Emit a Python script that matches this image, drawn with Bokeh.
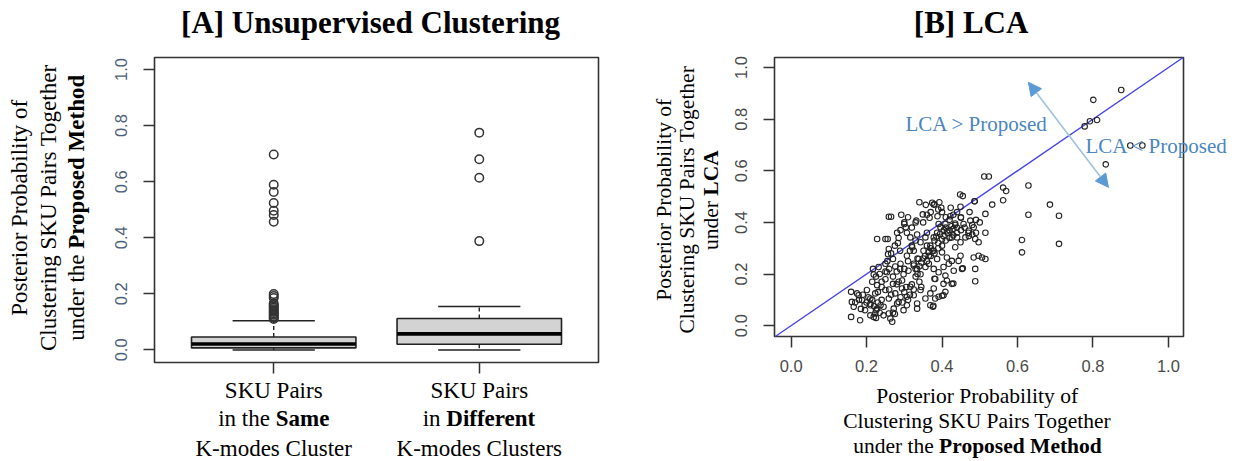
import math
from bokeh.plotting import figure
from bokeh.layouts import row
from bokeh.models import (Range1d, FixedTicker, PrintfTickFormatter, Label,
                          Arrow, NormalHead)
from bokeh.embed import file_html
from bokeh.resources import INLINE

SERIF = "Liberation Serif"
SANS = "Liberation Sans"

# ---------------- [A] box plots: proposed-method probabilities by K-modes grouping
group_pos = [1, 2]
group_line1 = ["SKU Pairs", "SKU Pairs"]
group_line2_plain = ["in the ", "in "]
group_line2_bold = ["Same", "Different"]
group_line3 = ["K-modes Cluster", "K-modes Clusters"]
box_q1 = [0.007, 0.020]
box_median = [0.021, 0.057]
box_q3 = [0.046, 0.112]
whisker_low = [0.0, 0.0]
whisker_high = [0.104, 0.155]
outliers_same = [0.697, 0.589, 0.563, 0.524, 0.496, 0.481, 0.457,
                 0.199, 0.192, 0.185, 0.165, 0.160, 0.155, 0.150, 0.145,
                 0.140, 0.135, 0.130, 0.125, 0.120, 0.115, 0.110]
outliers_different = [0.775, 0.680, 0.614, 0.388]

prob_ticks = [0.0, 0.2, 0.4, 0.6, 0.8, 1.0]

# ---------------- [B] scatter: proposed method (x) vs LCA (y)
proposed_prob = [
    0.512, 0.524, 0.562, 0.570, 0.629, 0.533, 0.562, 0.448, 0.455, 0.487,
    0.515, 0.515, 0.686, 0.629, 0.710, 0.612, 0.612, 0.710, 0.875, 0.801,
    0.778, 0.792, 0.811, 0.834, 0.899, 0.931,
    0.340, 0.357, 0.374, 0.378, 0.393, 0.398, 0.423, 0.449, 0.473, 0.486,
    0.259, 0.265, 0.292, 0.300, 0.304, 0.332, 0.349, 0.367, 0.388, 0.391,
    0.409, 0.422, 0.435, 0.450, 0.457, 0.475, 0.484, 0.471,
    0.228, 0.250, 0.256, 0.259, 0.283, 0.281, 0.307, 0.316, 0.334, 0.321,
    0.343, 0.356, 0.360, 0.369, 0.378, 0.387, 0.396, 0.404, 0.413, 0.426,
    0.435, 0.440, 0.449, 0.462, 0.471, 0.480, 0.488, 0.497,
    0.257, 0.270, 0.289, 0.307, 0.325, 0.338, 0.351, 0.365, 0.378, 0.387,
    0.400, 0.413, 0.426, 0.444, 0.484, 0.497, 0.506, 0.515, 0.449,
    0.217, 0.219, 0.232, 0.250, 0.254, 0.276, 0.289, 0.298, 0.311, 0.325,
    0.334, 0.343, 0.356, 0.365, 0.378, 0.391, 0.404, 0.418, 0.431, 0.453,
    0.488, 0.488, 0.413, 0.426, 0.404, 0.382, 0.294,
    0.159, 0.161, 0.179, 0.188, 0.201, 0.210, 0.223, 0.228, 0.237, 0.250,
    0.259, 0.270, 0.276, 0.285, 0.294, 0.307, 0.316, 0.325, 0.334, 0.343,
    0.356, 0.369, 0.378, 0.382, 0.404, 0.409, 0.391,
    0.159, 0.166, 0.183, 0.196, 0.210, 0.219, 0.223, 0.228, 0.245, 0.259,
    0.263, 0.268, 0.272, 0.281, 0.298, 0.307, 0.334, 0.369, 0.376,
    0.455, 0.430, 0.400, 0.377, 0.409, 0.380,
    0.380, 0.385, 0.390, 0.395, 0.400, 0.405, 0.410, 0.415, 0.420, 0.425,
    0.430, 0.435, 0.440, 0.370, 0.375, 0.365, 0.360, 0.355, 0.350, 0.345,
    0.340, 0.335, 0.330, 0.325, 0.360, 0.370, 0.380, 0.390, 0.400, 0.410,
    0.420, 0.430, 0.440, 0.450, 0.460, 0.470, 0.480, 0.490, 0.500, 0.490,
    0.200, 0.205, 0.210, 0.215, 0.220, 0.225, 0.230, 0.235, 0.240, 0.245,
    0.190, 0.195, 0.180, 0.175, 0.170, 0.185, 0.210, 0.225, 0.230, 0.240,
    0.250, 0.260, 0.265, 0.270, 0.275, 0.280, 0.285, 0.290, 0.295, 0.300,
    0.305, 0.310, 0.315, 0.320, 0.325, 0.330, 0.335, 0.340, 0.345, 0.300,
    0.310, 0.315, 0.320, 0.330, 0.290, 0.280, 0.270, 0.260, 0.250, 0.235,
    0.225, 0.215, 0.240, 0.255, 0.265, 0.275, 0.285, 0.290, 0.300, 0.310,
    0.320, 0.330, 0.350, 0.360, 0.370, 0.380, 0.390, 0.400, 0.410, 0.420,
    0.430, 0.440, 0.450,
]
lca_prob = [
    0.578, 0.578, 0.535, 0.522, 0.543, 0.469, 0.486, 0.508, 0.502, 0.482,
    0.433, 0.360, 0.469, 0.430, 0.426, 0.332, 0.284, 0.317, 0.913, 0.875,
    0.772, 0.792, 0.797, 0.625, 0.698, 0.698,
    0.478, 0.468, 0.476, 0.469, 0.478, 0.457, 0.457, 0.461, 0.440, 0.482,
    0.422, 0.422, 0.430, 0.394, 0.381, 0.407, 0.431, 0.418, 0.424, 0.394,
    0.394, 0.424, 0.396, 0.418, 0.394, 0.407, 0.381, 0.368,
    0.336, 0.336, 0.336, 0.297, 0.320, 0.360, 0.360, 0.342, 0.353, 0.304,
    0.323, 0.342, 0.360, 0.310, 0.342, 0.360, 0.381, 0.347, 0.366, 0.342,
    0.304, 0.342, 0.323, 0.342, 0.347, 0.353, 0.336, 0.323,
    0.277, 0.258, 0.290, 0.271, 0.290, 0.258, 0.290, 0.271, 0.290, 0.258,
    0.284, 0.264, 0.251, 0.251, 0.264, 0.271, 0.264, 0.258, 0.271,
    0.220, 0.198, 0.227, 0.240, 0.207, 0.229, 0.220, 0.199, 0.213, 0.233,
    0.220, 0.199, 0.227, 0.240, 0.220, 0.207, 0.227, 0.240, 0.213, 0.220,
    0.220, 0.172, 0.175, 0.162, 0.162, 0.181, 0.175,
    0.131, 0.092, 0.118, 0.099, 0.138, 0.105, 0.125, 0.157, 0.079, 0.138,
    0.105, 0.162, 0.125, 0.092, 0.144, 0.112, 0.151, 0.118, 0.086, 0.138,
    0.105, 0.125, 0.144, 0.105, 0.118, 0.131, 0.112,
    0.034, 0.073, 0.021, 0.060, 0.079, 0.034, 0.047, 0.066, 0.073, 0.047,
    0.028, 0.015, 0.066, 0.086, 0.060, 0.079, 0.066, 0.079, 0.073,
    0.222, 0.163, 0.116, 0.077, 0.194, 0.182,
    0.330, 0.345, 0.320, 0.355, 0.335, 0.370, 0.380, 0.360, 0.370, 0.385,
    0.375, 0.390, 0.380, 0.300, 0.290, 0.285, 0.310, 0.270, 0.260, 0.245,
    0.230, 0.260, 0.220, 0.240, 0.250, 0.270, 0.280, 0.300, 0.310, 0.330,
    0.340, 0.350, 0.360, 0.370, 0.380, 0.360, 0.390, 0.410, 0.400, 0.360,
    0.090, 0.110, 0.085, 0.100, 0.075, 0.060, 0.090, 0.050, 0.100, 0.040,
    0.120, 0.080, 0.100, 0.125, 0.090, 0.065, 0.040, 0.030, 0.130, 0.170,
    0.180, 0.140, 0.120, 0.050, 0.045, 0.160, 0.170, 0.110, 0.090, 0.130,
    0.150, 0.100, 0.120, 0.160, 0.140, 0.190, 0.200, 0.170, 0.150, 0.220,
    0.250, 0.290, 0.310, 0.330, 0.240, 0.210, 0.190, 0.220, 0.210, 0.200,
    0.190, 0.170, 0.150, 0.250, 0.280, 0.310, 0.340, 0.370, 0.400, 0.420,
    0.380, 0.400, 0.400, 0.430, 0.440, 0.470, 0.450, 0.440, 0.420, 0.410,
    0.430, 0.440, 0.420,
]


def add_text(fig, x, y, text, size, bold=False, angle=0.0, align="center",
             color="black", x_offset=0, y_offset=0, font=SERIF):
    fig.add_layout(Label(
        x=x, y=y, text=text, angle=angle, x_offset=x_offset, y_offset=y_offset,
        text_font=font, text_font_size=f"{size}px",
        text_font_style="bold" if bold else "normal",
        text_align=align, text_baseline="middle", text_color=color))


def style_axis(ax, label_color, standoff):
    ax.axis_line_color = None
    ax.major_tick_line_color = "#333333"
    ax.major_tick_line_width = 1.5
    ax.major_tick_out = 11
    ax.major_tick_in = 0
    ax.minor_tick_line_color = None
    ax.major_label_text_font = SANS
    ax.major_label_text_font_size = "16.5px"
    ax.major_label_text_color = label_color
    ax.major_label_standoff = standoff


def panel_figure(canvas_w, canvas_h, box_x, box_y, box_px):
    """The plotting frame spans the whole canvas; the R-style plot box sits
    at box_px = (left, top, right, bottom) pixels and shows box_x / box_y."""
    l, t, r, b = box_px
    kx = (r - l) / (box_x[1] - box_x[0])
    ky = (b - t) / (box_y[1] - box_y[0])
    xr = Range1d(box_x[0] - l / kx, box_x[1] + (canvas_w - r) / kx)
    yr = Range1d(box_y[0] - (canvas_h - b) / ky, box_y[1] + t / ky)
    fig = figure(frame_width=canvas_w, frame_height=canvas_h, min_border=0,
                 x_range=xr, y_range=yr,
                 output_backend="svg", toolbar_location=None)
    fig.grid.visible = False
    fig.outline_line_color = None
    fig.background_fill_color = "white"
    fig.border_fill_color = "white"
    fig.xaxis.fixed_location = box_y[0]
    fig.yaxis.fixed_location = box_x[0]
    fig.quad(left=[box_x[0]], right=[box_x[1]], bottom=[box_y[0]], top=[box_y[1]],
             fill_color=None, line_color="#333333", line_width=1.6)
    return fig


# ======================= Panel A =======================
a_box_x, a_box_y = (0.42, 2.58), (-0.045, 1.043)
pa = panel_figure(620, 461, a_box_x, a_box_y, (154, 57, 598, 362))

pa.yaxis.ticker = FixedTicker(ticks=prob_ticks)
pa.yaxis.formatter = PrintfTickFormatter(format="%.1f")
pa.yaxis.major_label_orientation = "vertical"
style_axis(pa.yaxis[0], "#4d6079", 16)

pa.xaxis.ticker = FixedTicker(ticks=group_pos)
pa.xaxis.major_label_overrides = {g: "" for g in group_pos}
style_axis(pa.xaxis[0], "black", 10)

box_half, cap_half = 0.4, 0.2
pa.segment(x0=group_pos, y0=box_q3, x1=group_pos, y1=whisker_high,
           line_color="#222222", line_width=1.4, line_dash="4 3")
pa.segment(x0=group_pos, y0=box_q1, x1=group_pos, y1=whisker_low,
           line_color="#222222", line_width=1.4, line_dash="4 3")
pa.segment(x0=[g - cap_half for g in group_pos], y0=whisker_high,
           x1=[g + cap_half for g in group_pos], y1=whisker_high,
           line_color="#222222", line_width=1.5)
pa.segment(x0=[g - cap_half for g in group_pos], y0=whisker_low,
           x1=[g + cap_half for g in group_pos], y1=whisker_low,
           line_color="#222222", line_width=1.5)
pa.quad(left=[g - box_half for g in group_pos],
        right=[g + box_half for g in group_pos],
        bottom=box_q1, top=box_q3,
        fill_color="#d3d3d3", line_color="#222222", line_width=1.6)
pa.segment(x0=[g - box_half for g in group_pos], y0=box_median,
           x1=[g + box_half for g in group_pos], y1=box_median,
           line_color="black", line_width=3.6)
pa.scatter(x=[group_pos[0]] * len(outliers_same), y=outliers_same,
           marker="circle", size=8.5, fill_color=None,
           line_color="#333333", line_width=1.5)
pa.scatter(x=[group_pos[1]] * len(outliers_different), y=outliers_different,
           marker="circle", size=8.5, fill_color=None,
           line_color="#333333", line_width=1.5)

# category labels under the boxes (second line mixes plain and bold)
split_px = [2, -33]
for g, l1, l2p, l2b, l3, sp in zip(group_pos, group_line1, group_line2_plain,
                                   group_line2_bold, group_line3, split_px):
    add_text(pa, g, -0.146, l1, 23)
    add_text(pa, g, -0.246, l2p, 23, align="right", x_offset=sp)
    add_text(pa, g, -0.246, l2b, 23, bold=True, align="left", x_offset=sp)
    add_text(pa, g, -0.350, l3, 23)

# y-axis title, three rotated lines
up = math.pi / 2
add_text(pa, -0.237, 0.507, "Posterior Probability of", 23, angle=up)
add_text(pa, -0.096, 0.507, "Clustering SKU Pairs Together", 23, angle=up)
add_text(pa, 0.041, 0.507, "under the ", 23, angle=up, align="right", y_offset=-41)
add_text(pa, 0.041, 0.507, "Proposed Method", 23, bold=True, angle=up,
         align="left", y_offset=-41)

add_text(pa, 1.471, 1.168, "[A] Unsupervised Clustering", 31, bold=True)

# ======================= Panel B =======================
b_box_x, b_box_y = (-0.044, 1.04), (-0.042, 1.039)
pb = panel_figure(616, 461, b_box_x, b_box_y, (154, 57, 563, 336))

for ax, orient, standoff in ((pb.xaxis[0], "horizontal", 12),
                             (pb.yaxis[0], "vertical", 16)):
    ax.ticker = FixedTicker(ticks=prob_ticks)
    ax.formatter = PrintfTickFormatter(format="%.1f")
    ax.major_label_orientation = orient
    style_axis(ax, "#4a4a4a", standoff)

# y = x reference line across the plot box
diag_lo = max(b_box_x[0], b_box_y[0])
diag_hi = min(b_box_x[1], b_box_y[1])
pb.segment(x0=[diag_lo], y0=[diag_lo], x1=[diag_hi], y1=[diag_hi],
           line_color="#4646e4", line_width=1.4)

pb.scatter(x=proposed_prob, y=lca_prob, marker="circle", size=5.5,
           fill_color=None, line_color="#222222", line_width=1.1)

arrow_color = "#5b9bd5"
pb.add_layout(Arrow(
    x_start=0.629, y_start=0.943, x_end=0.841, y_end=0.536,
    line_color="#9fc2e3", line_width=1.6,
    start=NormalHead(size=13, fill_color=arrow_color, line_color=arrow_color),
    end=NormalHead(size=13, fill_color=arrow_color, line_color=arrow_color)))

note_color = "#4a86bf"
add_text(pb, 0.303, 0.783, "LCA > Proposed", 21, align="left", color=note_color)
add_text(pb, 0.780, 0.697, "LCA < Proposed", 21, align="left", color=note_color)

# axis titles
add_text(pb, 0.493, -0.274, "Posterior Probability of", 21.5)
add_text(pb, 0.493, -0.371, "Clustering SKU Pairs Together", 21.5)
add_text(pb, 0.493, -0.466, "under the ", 21.5, align="right", x_offset=-38)
add_text(pb, 0.493, -0.466, "Proposed Method", 21.5, bold=True, align="left",
         x_offset=-38)

add_text(pb, -0.338, 0.488, "Posterior Probability of", 21.5, angle=up)
add_text(pb, -0.275, 0.488, "Clustering SKU Pairs Together", 21.5, angle=up)
add_text(pb, -0.211, 0.488, "under ", 21.5, angle=up, align="right", y_offset=4)
add_text(pb, -0.211, 0.488, "LCA", 21.5, bold=True, angle=up, align="left",
         y_offset=4)

add_text(pb, 0.477, 1.173, "[B] LCA", 31, bold=True)

layout = row(pa, pb)
open("out.html", "w").write(file_html(layout, INLINE))
